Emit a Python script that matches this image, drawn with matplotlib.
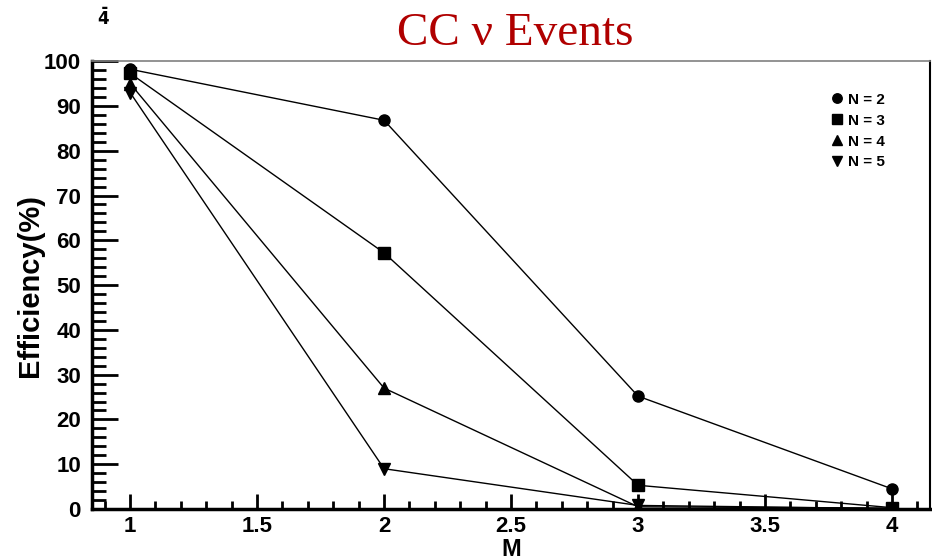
import numpy as np
import matplotlib.pyplot as plt
from matplotlib.ticker import MultipleLocator, FormatStrFormatter

plt.rcParams['font.family'] = ['Liberation Sans', 'DejaVu Sans']

M = [1, 2, 3, 4]
eff_n2 = [98.2, 86.8, 25.2, 4.5]
eff_n3 = [97.3, 57.2, 5.3, 0.3]
eff_n4 = [95.0, 27.0, 0.5, 0.2]
eff_n5 = [93.0, 9.0, 0.8, 0.1]
labels = ['N = 2', 'N = 3', 'N = 4', 'N = 5']
markers = ['o', 's', '^', 'v']

fig = plt.figure(figsize=(9.32, 5.56), dpi=100)
ax = fig.add_axes([0.0987, 0.0845, 0.8993, 0.8055])

for y, lab, mk in zip([eff_n2, eff_n3, eff_n4, eff_n5], labels, markers):
    ax.plot(M, y, color='black', lw=1, marker=mk, markersize=8, label=lab)

ax.set_xlim(0.85, 4.15)
ax.set_ylim(0, 100)
ax.xaxis.set_major_locator(MultipleLocator(0.5))
ax.xaxis.set_minor_locator(MultipleLocator(0.1))
ax.xaxis.set_major_formatter(FormatStrFormatter('%g'))
ax.yaxis.set_major_locator(MultipleLocator(10))
ax.yaxis.set_minor_locator(MultipleLocator(2))
ax.tick_params(which='both', direction='in', top=False, right=False, width=2)
ax.tick_params(axis='y', which='major', length=19, labelsize=16, pad=8)
ax.tick_params(axis='y', which='minor', length=10)
ax.tick_params(axis='x', which='major', length=11, labelsize=16, pad=5)
ax.tick_params(axis='x', which='minor', length=6)
for t in ax.get_xticklabels() + ax.get_yticklabels():
    t.set_fontweight('bold')

ax.spines['left'].set_linewidth(2.5)
ax.spines['bottom'].set_linewidth(2.5)
ax.spines['top'].set_color('gray')
ax.spines['top'].set_linewidth(1.2)
ax.spines['right'].set_linewidth(1.5)

ax.set_ylabel('Efficiency(%)', fontsize=21, fontweight='bold')
ax.yaxis.set_label_coords(-0.057, 0.5)
ax.set_xlabel('M', fontsize=17, fontweight='bold')
ax.xaxis.set_label_coords(0.5, -0.064)

fig.text(0.553, 0.94, 'CC \u03bd Events', color='#b00000', fontsize=34,
         family='Liberation Serif', ha='center', va='center')
fig.text(0.111, 0.968, r'$\mathbf{\bar{4}}$', fontsize=12, ha='center', va='center')

leg = ax.legend(loc='upper right', bbox_to_anchor=(0.962, 0.96), frameon=False,
                prop={'weight': 'bold', 'size': 11}, handlelength=0.8,
                handletextpad=0.3, labelspacing=0.45, markerscale=0.85)
for h in leg.legend_handles:
    h.set_linestyle('none')

fig.savefig('out.png', dpi=100)
